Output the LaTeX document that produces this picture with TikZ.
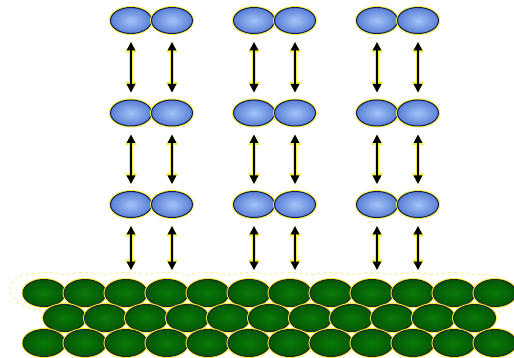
\documentclass[tikz,border=0pt]{standalone}
\usetikzlibrary{shapes.geometric,arrows.meta,calc}
\definecolor{beadlight}{HTML}{A2C4F8}
\definecolor{beaddark}{HTML}{5A7ED6}
\definecolor{beadrim}{HTML}{141E4E}
\definecolor{leaflight}{HTML}{0A7A0A}
\definecolor{leafdark}{HTML}{035603}
\definecolor{glow}{HTML}{F2EE3A}
\definecolor{haze}{HTML}{F4F0A0}
\tikzset{
  halo/.style={preaction={draw=glow, line width=3pt}},
  bead/.style={ellipse, inner sep=0pt, minimum width=41pt, minimum height=26pt,
    draw=beadrim, line width=1pt, inner color=beadlight, outer color=beaddark, halo},
  grain/.style={ellipse, inner sep=0pt, minimum width=42pt, minimum height=27pt,
    draw=black!85, line width=1pt, inner color=leaflight, outer color=leafdark, halo},
  link/.style={line width=1.4pt, black,
    {Triangle[length=8.5pt,width=8.5pt]}-{Triangle[length=8.5pt,width=8.5pt]},
    preaction={draw=glow, line width=3.6pt,
      {Triangle[length=10.5pt,width=11pt]}-{Triangle[length=10.5pt,width=11pt]}}},
}
\begin{document}
\begin{tikzpicture}[x=1pt,y=-1pt]
\useasboundingbox[fill=white] (0,0) rectangle (514,358);

% dashed rim around the surface layer
\draw[haze, dashed, line width=1pt]
  (42,311) .. controls (2,306) and (0,276) .. (30,274)
  \foreach \k in {0,...,10} { to[bend left=12] ({64.5+41*\k},275) }
  .. controls (510,270) and (516,296) .. (498,314);

% surface: three staggered rows of grains
\foreach \k in {0,...,11} { \node[grain] (g-1-\k) at ({44+41*\k},293) {}; }
\foreach \k in {0,...,10} { \node[grain] (g-2-\k) at ({64.5+41*\k},318) {}; }
\foreach \k in {0,...,11} { \node[grain] (g-3-\k) at ({44+41*\k},343) {}; }

\coordinate (surf) at (0,270);

% paired beads in three columns
\foreach \c/\x in {1/131,2/254,3/377} {
  \foreach \r/\y in {1/20.5,2/113,3/204.5} {
    \node[bead] (b-\c-\r-l) at (\x,\y) {};
    \node[bead] (b-\c-\r-r) at (\x+41,\y) {};
  }
}

% exchange arrows
\foreach \c in {1,2,3} {
  \foreach \s in {l,r} {
    \draw[link, shorten <=8pt, shorten >=7pt] (b-\c-1-\s) -- (b-\c-2-\s);
    \draw[link, shorten <=8pt, shorten >=7pt] (b-\c-2-\s) -- (b-\c-3-\s);
    \draw[link, shorten <=8pt] (b-\c-3-\s) -- (b-\c-3-\s |- surf);
  }
}
\end{tikzpicture}
\end{document}
